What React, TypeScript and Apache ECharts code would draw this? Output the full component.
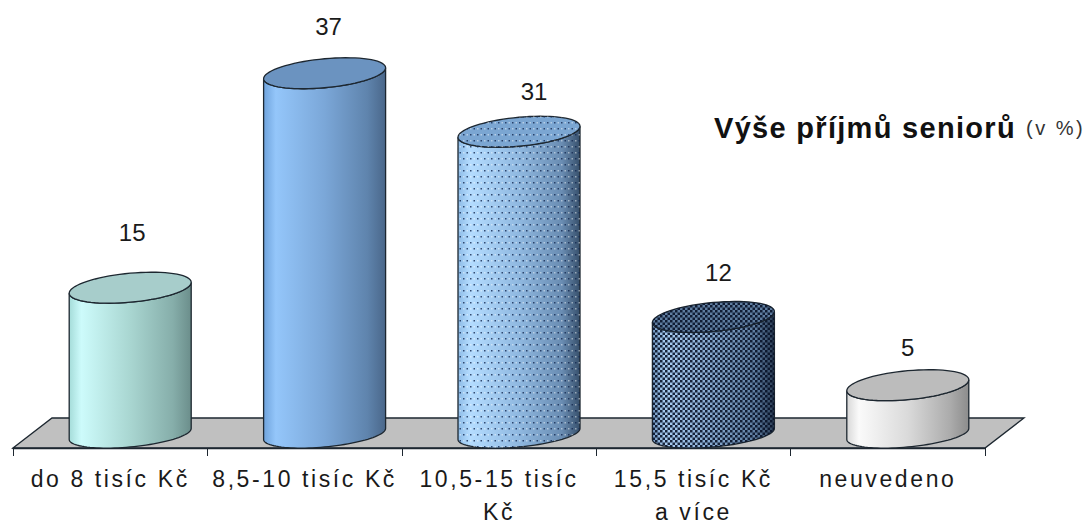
import React, { useEffect, useRef } from "react";
import * as echarts from "echarts";

const categories = ["do 8 tisíc Kč", "8,5-10 tisíc Kč", "10,5-15 tisíc\nKč", "15,5 tisíc Kč\na více", "neuvedeno"];
const values = [15, 37, 31, 12, 5];
const titleMain = "Výše příjmů seniorů";
const titleUnit = "(v %)";

// styling only
const labelLift = [55, 47, 40, 44, 38];
const labelShift = [2, 4, 15, 5, 0];
const depthShift = 20;
const sideStops = [
  ["#a5dcd9", "#cdfbfb", "#a9d6d1", "#86aeaa", "#6b8e8b"],
  ["#6fa3dc", "#94c6fa", "#7ba7d8", "#5f84ad", "#4a678a"],
  ["#8dbbe6", "#b4dcff", "#8fb8e0", "#6a8db3", "#37506c"],
  ["#6f93bd", "#a9cdf2", "#86a9d0", "#5f7da0", "#2b3d55"],
  ["#d8d8d8", "#fafafa", "#dadada", "#ababab", "#8c8c8c"],
];
const topFill = ["#a7cdcb", "#6b93c0", "#7ba6d2", "#5f7da0", "#bcbcbc"];
const radiusX = 61;
const radiusTop = 14.5;
const radiusBase = 13;
const tilt = 0.09;

function patternCanvas(kind: "dots" | "checker") {
  const c = document.createElement("canvas");
  const g = c.getContext("2d")!;
  if (kind === "dots") {
    c.width = 7; c.height = 12;
    g.fillStyle = "rgba(20,40,80,0.8)";
    g.fillRect(1, 2, 1.5, 1.5);
    g.fillRect(4.5, 8, 1.5, 1.5);
    g.fillStyle = "rgba(255,255,255,0.45)";
    g.fillRect(4.5, 2, 1.5, 1.5);
    g.fillRect(1, 8, 1.5, 1.5);
  } else {
    c.width = 5; c.height = 5;
    g.fillStyle = "rgba(8,18,40,0.9)";
    g.fillRect(0, 0, 2.5, 2.5);
    g.fillRect(2.5, 2.5, 2.5, 2.5);
  }
  return c;
}

function ellipse(cx: number, cy: number, b: number, from: number, to: number, n = 48) {
  const pts: number[][] = [];
  for (let i = 0; i <= n; i++) {
    const t = from + ((to - from) * i) / n;
    pts.push([cx + radiusX * Math.cos(t), cy - tilt * radiusX * Math.cos(t) + b * Math.sin(t)]);
  }
  return pts;
}

export default function App() {
  const ref = useRef<HTMLDivElement>(null);
  useEffect(() => {
    const chart = echarts.init(ref.current!, null, { renderer: "svg" });
    const patterns: any[] = [
      null,
      null,
      { image: patternCanvas("dots"), repeat: "repeat" },
      { image: patternCanvas("checker"), repeat: "repeat" },
      null,
    ];
    const ink = "#1d2730";
    chart.setOption({
      animation: false,
      backgroundColor: "#fff",
      grid: { left: 13, right: 101, top: 5, bottom: 76, containLabel: false, outerBoundsMode: "none" },
      title: {
        left: 714, top: 113, padding: 0,
        text: titleMain,
        textStyle: { fontFamily: "Liberation Sans", fontWeight: "bold", fontSize: 29, color: "#111" },
      },
      graphic: [
        {
          type: "polygon", z: -1,
          shape: { points: [[13, 448], [52, 418], [1024, 418], [985, 448]] },
          style: { fill: "#c0c0c0", stroke: ink, lineWidth: 1.3 },
        },
        {
          type: "text", x: 1026, y: 128,
          style: { text: titleUnit, fill: "#333", font: "20px 'Liberation Sans'", verticalAlign: "middle" },
        },
      ],
      xAxis: {
        type: "category", data: categories,
        axisLine: { onZero: false, lineStyle: { color: ink, width: 1.3 } },
        axisTick: { show: true, length: 8, lineStyle: { color: ink } },
        axisLabel: {
          margin: 14, interval: 0, lineHeight: 33, color: "#1a1a1a",
          fontFamily: "Liberation Sans", fontSize: 23,
        },
      },
      yAxis: { type: "value", min: -1.44, max: 44, show: false },
      series: [{
        type: "custom", clip: false, data: values,
        encode: { x: 0, y: 1 },
        renderItem: (params: any, api: any) => {
          const i = params.dataIndex;
          const [tickX, topY] = api.coord([i, values[i]]);
          const cx = tickX + depthShift;
          const [, baseY] = api.coord([i, 0]);
          const body = [...ellipse(cx, baseY, radiusBase, 0, Math.PI), ...ellipse(cx, topY, radiusTop, Math.PI, 0)];
          const rim = ellipse(cx, topY, radiusTop, 0, Math.PI * 2, 72);
          const s = sideStops[i];
          const grad = new echarts.graphic.LinearGradient(0, 0, 1, 0, [
            { offset: 0, color: s[0] }, { offset: 0.1, color: s[1] }, { offset: 0.5, color: s[2] },
            { offset: 0.85, color: s[3] }, { offset: 1, color: s[4] },
          ]);
          const kids: any[] = [
            { type: "polygon", shape: { points: body }, style: { fill: grad, stroke: ink, lineWidth: 1.3 } },
          ];
          if (patterns[i]) kids.push({ type: "polygon", shape: { points: body }, style: { fill: patterns[i], stroke: "none" } });
          kids.push({ type: "polygon", shape: { points: rim }, style: { fill: topFill[i], stroke: ink, lineWidth: 1.3 } });
          if (patterns[i]) kids.push({ type: "polygon", shape: { points: rim }, style: { fill: patterns[i], stroke: "none" } });
          kids.push({
            type: "text",
            style: {
              text: String(values[i]), x: cx + labelShift[i], y: topY - labelLift[i],
              align: "center", verticalAlign: "middle", fill: "#1a1a1a",
              font: "24px 'Liberation Sans'",
            },
          });
          return { type: "group", children: kids };
        },
      }],
    });
    return () => chart.dispose();
  }, []);
  return (
    <div style={{ position: "fixed", left: 0, top: 0, width: 1086, height: 524, background: "#fff" }}>
      <style>{`#cyl text[style*="23px"] { letter-spacing: 2.6px; } #cyl text[style*="29px"] { letter-spacing: 1.3px; } #cyl text[style*="20px"] { letter-spacing: 2.5px; }`}</style>
      <div id="cyl" ref={ref} style={{ width: 1086, height: 524 }} />
    </div>
  );
}
